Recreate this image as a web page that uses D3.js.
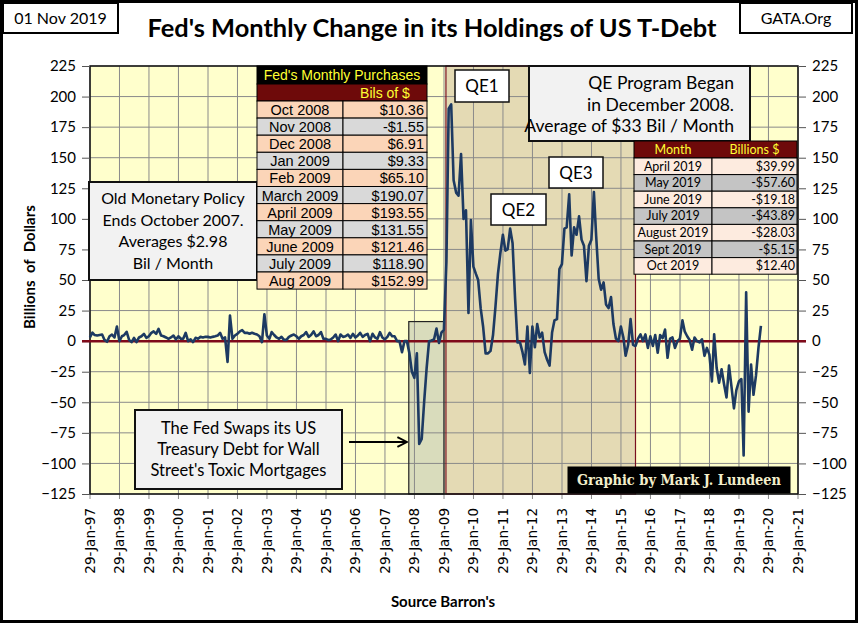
<!DOCTYPE html>
<html>
<head>
<meta charset="utf-8">
<script src="https://cdnjs.cloudflare.com/ajax/libs/d3/7.8.5/d3.min.js"></script>
<style>
  body { margin: 0; background: #fff; }
  svg { display: block; }
</style>
</head>
<body>
<div id="chart"></div>
<script>
// Fed's monthly change in T-Debt holdings, billions $, one value per month from Jan 1997
const change1997to2001 = [
  3, 7, 5, 4.6, 5, 5.4, 1, -0.5, 4, 5.4, 3, 12,
  0, 4, 5, 7.6, 1, -0.8, 2.7, -0.8, 3, 4, 6, 2.7,
  4, 6.8, 8, 6, 10, 4.6, 4, 3, 1.9, 3, 4.6, 1.4,
  4, 2, 1.9, 6.8, 0, 1.4, -0.8, 2.7, 2, 3.5, 3, 3.5,
  3.5, 3, 3.5, 4, 4.6, 6.8, 1.9, 3, -17, 21, 1.9, 4.6
];
const change2002to2006 = [
  6, 8, 9, 6.8, 6.8, 6, 6.8, 6, 5.4, 4, -0.8, 22,
  4.6, 1.9, 7.4, 5, 3, 1.9, 3.5, 1, 1, 3.5, 4.6, 5.4,
  4, 1.9, 4, 5, 7.4, 3.5, 5, 8, 4, 5, 7.4, 1.9,
  1.9, 0.8, 1.4, 3, 5.4, 0, 5.4, 3.5, 4, 5.4, 2.7, 6,
  3, 4.6, 6.8, 3.5, 5, 6, 0, 6, 3, 1.9, 7.4, 3
];
const change2007to2011 = [
  1.4, 3.5, 6.8, 4, 4, 0, 0, -9, 0, 0, -10, -25,
  -30, -10, -84, -80, -50, -22, 0, 0.5, 1.5, 10.36, -1.55, 6.91,
  9.33, 65.10, 190.07, 193.55, 131.55, 121.46, 118.90, 152.99, 100, 107, 23, 99,
  61, 55, 50, 27, 12, -10, -10, -8, 5, 28, 55, 72,
  87, 74, 75, 92, 80, 35, -1, -1, -9, -19, 12, -26
];
const change2012to2016 = [
  12, -5, 14, 3, 7, -9, -15, -20, 7, 17, 18, 59,
  63, 92, 93, 120, 70, 93, 87, 102, 83, 78, 49, 78,
  83, 122, 86, 51, 42, 48, 30, 27, 36, 14, 2, 0,
  12, 3, -12, -3, 18, -3, -4, 2, 5.5, 0, 5.5, -5.5,
  4, -4, 5, -9.5, 5, 2.5, 9.5, -13.6, 2, 3, -5.5, 0
];
const change2017to2019 = [
  2, 17, 8, 4, 1, -7, 3, 0, -1, 1.5, -12, -5.5,
  -11, -33, 5.5, -22, -34, -23, -35, -46, -20, -37, -55, -40,
  -33, -31, -93.5, 39.99, -57.60, -19.18, -43.89, -28.03, -5.15, 12.40
];

// table of early QE purchases
const earlyMonths = ["Oct 2008", "Nov 2008", "Dec 2008", "Jan 2009", "Feb 2009", "March 2009",
  "April 2009", "May 2009", "June 2009", "July 2009", "Aug 2009"];
const earlyValues = [10.36, -1.55, 6.91, 9.33, 65.10, 190.07, 193.55, 131.55, 121.46, 118.90, 152.99];

// table of recent months
const recentMonths = ["April 2019", "May 2019", "June 2019", "July 2019", "August 2019", "Sept 2019", "Oct 2019"];
const recentValues = [39.99, -57.60, -19.18, -43.89, -28.03, -5.15, 12.40];

const tickYears = d3.range(1997, 2022);
const yTicks = d3.range(-125, 226, 25);

const width = 858;
const height = 623;
const plot = { left: 90, right: 798, top: 66, bottom: 494 };

const series = [].concat(change1997to2001, change2002to2006, change2007to2011,
  change2012to2016, change2017to2019)
  .map((v, i) => ({ date: new Date(1997, i, 28), value: v }));

const svg = d3.select("#chart")
  .append("svg")
  .attr("width", width)
  .attr("height", height);

svg.append("rect")
  .attr("width", width).attr("height", height)
  .attr("fill", "#fff");

// scales
const x = d3.scaleTime()
  .domain([new Date(1997, 0, 29), new Date(2021, 0, 29)])
  .range([plot.left, plot.right]);

const y = d3.scaleLinear()
  .domain([-125, 225])
  .range([plot.bottom, plot.top]);

// plot background
svg.append("rect")
  .attr("x", plot.left).attr("y", plot.top)
  .attr("width", plot.right - plot.left)
  .attr("height", plot.bottom - plot.top)
  .attr("fill", "#ffffcc");

// shaded periods
svg.append("rect")
  .attr("x", x(new Date(2007, 10, 20)))
  .attr("y", y(16))
  .attr("width", x(new Date(2009, 0, 29)) - x(new Date(2007, 10, 20)))
  .attr("height", y(-125) - y(16))
  .attr("fill", "#d9dcbc");

svg.append("rect")
  .attr("x", x(new Date(2009, 1, 22)))
  .attr("y", plot.top)
  .attr("width", x(new Date(2015, 6, 28)) - x(new Date(2009, 1, 22)))
  .attr("height", plot.bottom - plot.top)
  .attr("fill", "#e4dab4");

// gridlines
const tickDates = tickYears.map((yr) => new Date(yr, 0, 29));

svg.append("g")
  .selectAll("line")
  .data(tickDates)
  .enter()
  .append("line")
  .attr("x1", (d) => x(d)).attr("x2", (d) => x(d))
  .attr("y1", plot.top).attr("y2", plot.bottom + 5)
  .attr("stroke", "#8a8a8a")
  .attr("stroke-width", 1);

svg.append("g")
  .selectAll("line")
  .data(yTicks)
  .enter()
  .append("line")
  .attr("x1", plot.left).attr("x2", plot.right)
  .attr("y1", (d) => y(d)).attr("y2", (d) => y(d))
  .attr("stroke", "#8a8a8a")
  .attr("stroke-width", 1);

// borders of shaded periods
svg.append("rect")
  .attr("x", x(new Date(2007, 10, 20)))
  .attr("y", y(16))
  .attr("width", x(new Date(2009, 0, 29)) - x(new Date(2007, 10, 20)))
  .attr("height", y(-125) - y(16))
  .attr("fill", "none")
  .attr("stroke", "#222")
  .attr("stroke-width", 1.2);

svg.append("rect")
  .attr("x", x(new Date(2009, 1, 22)))
  .attr("y", plot.top)
  .attr("width", x(new Date(2015, 6, 28)) - x(new Date(2009, 1, 22)))
  .attr("height", plot.bottom - plot.top)
  .attr("fill", "none")
  .attr("stroke", "#7a1020")
  .attr("stroke-width", 1.2);

// plot frame
svg.append("rect")
  .attr("x", plot.left).attr("y", plot.top)
  .attr("width", plot.right - plot.left)
  .attr("height", plot.bottom - plot.top)
  .attr("fill", "none")
  .attr("stroke", "#111")
  .attr("stroke-width", 1.5);

// y axes
const leftAxis = d3.axisLeft(y).tickValues(yTicks).tickSize(8).tickPadding(6);
const rightAxis = d3.axisRight(y).tickValues(yTicks).tickSize(8).tickPadding(6);

svg.append("g")
  .attr("transform", `translate(${plot.left}, 0)`)
  .call(leftAxis)
  .call((g) => g.select(".domain").remove());

svg.append("g")
  .attr("transform", `translate(${plot.right}, 0)`)
  .call(rightAxis)
  .call((g) => g.select(".domain").remove());

svg.selectAll(".tick text")
  .attr("font-family", "Lato, sans-serif")
  .attr("font-size", 15)
  .attr("fill", "#000");
svg.selectAll(".tick line").attr("stroke", "#555");

// x tick labels
const fmt = d3.timeFormat("%d-%b-%y");
svg.append("g")
  .selectAll("text")
  .data(tickDates)
  .enter()
  .append("text")
  .attr("transform", (d) => `translate(${x(d)}, 508) rotate(-90)`)
  .attr("dy", "0.35em")
  .attr("text-anchor", "end")
  .attr("font-family", "DejaVu Sans, sans-serif")
  .attr("font-size", 13.5)
  .text((d) => fmt(d));

// zero line
svg.append("line")
  .attr("x1", plot.left - 8).attr("x2", plot.right + 8)
  .attr("y1", y(0)).attr("y2", y(0))
  .attr("stroke", "#7f0a1a")
  .attr("stroke-width", 2.5);

// data line
const line = d3.line()
  .x((d) => x(d.date))
  .y((d) => y(d.value));

svg.append("path")
  .datum(series)
  .attr("d", line)
  .attr("fill", "none")
  .attr("stroke", "#1d3a62")
  .attr("stroke-width", 2.6)
  .attr("stroke-linejoin", "round");

// axis titles
svg.append("text")
  .attr("transform", "translate(35, 267) rotate(-90)")
  .attr("text-anchor", "middle")
  .attr("font-family", "Lato, sans-serif")
  .attr("font-weight", "bold")
  .attr("font-size", 15)
  .attr("xml:space", "preserve")
  .text("Billions  of  Dollars");

svg.append("text")
  .attr("x", 443).attr("y", 607)
  .attr("text-anchor", "middle")
  .attr("font-family", "Lato, sans-serif")
  .attr("font-weight", "bold")
  .attr("font-size", 15)
  .text("Source Barron's");

// title and corner boxes
svg.append("text")
  .attr("x", 432).attr("y", 37)
  .attr("text-anchor", "middle")
  .attr("font-family", "Lato, sans-serif")
  .attr("font-weight", "bold")
  .attr("font-size", 24)
  .attr("textLength", 569)
  .attr("lengthAdjust", "spacingAndGlyphs")
  .text("Fed's Monthly Change in its Holdings of US T-Debt");

function box(x0, y0, w, h, fill, stroke, sw) {
  svg.append("rect")
    .attr("x", x0).attr("y", y0)
    .attr("width", w).attr("height", h)
    .attr("fill", fill)
    .attr("stroke", stroke)
    .attr("stroke-width", sw);
}

function label(tx, ty, str, size, anchor, opts = {}) {
  return svg.append("text")
    .attr("x", tx).attr("y", ty)
    .attr("text-anchor", anchor)
    .attr("font-family", opts.family || "Lato, sans-serif")
    .attr("font-weight", opts.weight || "normal")
    .attr("font-size", size)
    .attr("fill", opts.fill || "#000")
    .text(str);
}

box(3, 3, 115, 30, "#fff", "#000", 2);
label(60.5, 24, "01 Nov 2019", 16, "middle");
box(740, 3, 112, 30, "#fff", "#000", 2);
label(796, 24, "GATA.Org", 16, "middle");

// old policy note
box(89, 182, 168, 98, "#f2f2f2", "#111", 2);
["Old Monetary Policy", "Ends October 2007.", "Averages $2.98", "Bil / Month"]
  .forEach((t, i) => label(173, 204 + i * 21.5, t, 16, "middle"));

// QE note
box(529, 66, 221, 75, "#f2f2f2", "#111", 2);
["QE Program Began", "in December 2008.", "Average of $33 Bil / Month"]
  .forEach((t, i) => label(734, 89 + i * 21.5, t, 17.5, "end"));

// QE labels
box(455, 70, 54, 32, "#fff", "#111", 1.5);
label(482, 92, "QE1", 17, "middle");
box(491, 194, 55, 31, "#fff", "#111", 1.5);
label(518.5, 216, "QE2", 17, "middle");
box(549, 157, 54, 31, "#fff", "#111", 1.5);
label(576, 179, "QE3", 17, "middle");

// swap note
box(135, 410, 207, 79, "#f2f2f2", "#111", 2);
["The Fed Swaps its US", "Treasury Debt for Wall", "Street's Toxic Mortgages"]
  .forEach((t, i) => label(238.5, 434 + i * 21, t, 16.5, "middle"));

svg.append("defs").append("marker")
  .attr("id", "arrow")
  .attr("viewBox", "0 0 10 10")
  .attr("refX", 9).attr("refY", 5)
  .attr("markerWidth", 6).attr("markerHeight", 6)
  .attr("orient", "auto")
  .append("path")
  .attr("d", "M1,1 L9,5 L1,9")
  .attr("fill", "none")
  .attr("stroke", "#000")
  .attr("stroke-width", 1.6);

svg.append("line")
  .attr("x1", 349).attr("x2", 407)
  .attr("y1", 442).attr("y2", 442)
  .attr("stroke", "#000")
  .attr("stroke-width", 2)
  .attr("marker-end", "url(#arrow)");

// credit
box(568, 467, 222, 26, "#000", "#000", 1);
label(679, 485, "Graphic by Mark J. Lundeen", 14.5, "middle",
  { family: "DejaVu Serif, serif", weight: "bold", fill: "#f3eecb" })
  .attr("textLength", 204)
  .attr("lengthAdjust", "spacingAndGlyphs");

const money = (v) => (v < 0 ? "-$" : "$") + d3.format(".2f")(Math.abs(v));
const narrow = "Liberation Sans Narrow, Arial Narrow, Liberation Sans, sans-serif";

// left table
const lt = { x: 257, mid: 343, right: 427, top: 66, head: 18, sub: 17, row: 17.1 };
box(lt.x, lt.top, lt.right - lt.x, lt.head, "#000", "#000", 1);
label((lt.x + lt.right) / 2, lt.top + 14, "Fed's Monthly Purchases", 14, "middle",
  { family: narrow, fill: "#ffff33" });
box(lt.x, lt.top + lt.head, lt.right - lt.x, lt.sub, "#6e0a0a", "#000", 1);
label((lt.mid + lt.right) / 2, lt.top + lt.head + 14, "Bils of $", 14, "middle",
  { family: narrow, fill: "#ffff33" });

const ltRows = svg.append("g")
  .selectAll("g")
  .data(earlyMonths.map((m, i) => ({ month: m, value: earlyValues[i] })))
  .enter()
  .append("g")
  .attr("transform", (d, i) => `translate(0, ${lt.top + lt.head + lt.sub + i * lt.row})`);

ltRows.append("rect")
  .attr("x", lt.x).attr("width", lt.mid - lt.x).attr("height", lt.row)
  .attr("fill", (d, i) => (i % 2 ? "#d9d9d9" : "#fbd5b8"))
  .attr("stroke", "#000");
ltRows.append("rect")
  .attr("x", lt.mid).attr("width", lt.right - lt.mid).attr("height", lt.row)
  .attr("fill", (d, i) => (i % 2 ? "#d9d9d9" : "#fbd5b8"))
  .attr("stroke", "#000");
ltRows.append("text")
  .attr("x", (lt.x + lt.mid) / 2).attr("y", 14)
  .attr("text-anchor", "middle")
  .attr("font-family", narrow).attr("font-size", 14.5)
  .text((d) => d.month);
ltRows.append("text")
  .attr("x", lt.right - 3).attr("y", 14)
  .attr("text-anchor", "end")
  .attr("font-family", narrow).attr("font-size", 14.5)
  .text((d) => money(d.value));

// right table
const rt = { x: 634, mid: 712, right: 797, top: 141, head: 17, row: 16.6 };
box(rt.x, rt.top, rt.right - rt.x, rt.head, "#6e0a0a", "#000", 1);
label((rt.x + rt.mid) / 2, rt.top + 13, "Month", 12.5, "middle", { fill: "#ffff33" });
label((rt.mid + rt.right) / 2, rt.top + 13, "Billions $", 12.5, "middle", { fill: "#ffff33" });

const rtRows = svg.append("g")
  .selectAll("g")
  .data(recentMonths.map((m, i) => ({ month: m, value: recentValues[i] })))
  .enter()
  .append("g")
  .attr("transform", (d, i) => `translate(0, ${rt.top + rt.head + i * rt.row})`);

rtRows.append("rect")
  .attr("x", rt.x).attr("width", rt.mid - rt.x).attr("height", rt.row)
  .attr("fill", (d, i) => (i % 2 ? "#c4c4c4" : "#fdebdf"))
  .attr("stroke", "#000");
rtRows.append("rect")
  .attr("x", rt.mid).attr("width", rt.right - rt.mid).attr("height", rt.row)
  .attr("fill", (d, i) => (i % 2 ? "#c4c4c4" : "#fdebdf"))
  .attr("stroke", "#000");
rtRows.append("text")
  .attr("x", (rt.x + rt.mid) / 2).attr("y", 12.5)
  .attr("text-anchor", "middle")
  .attr("font-family", "Lato, sans-serif").attr("font-size", 12.5)
  .text((d) => d.month);
rtRows.append("text")
  .attr("x", rt.right - 2).attr("y", 12.5)
  .attr("text-anchor", "end")
  .attr("font-family", "Lato, sans-serif").attr("font-size", 12.5)
  .text((d) => money(d.value));

// outer frame
svg.append("rect")
  .attr("x", 1.5).attr("y", 1.5)
  .attr("width", width - 3).attr("height", height - 3)
  .attr("fill", "none")
  .attr("stroke", "#000")
  .attr("stroke-width", 3);
</script>
</body>
</html>
